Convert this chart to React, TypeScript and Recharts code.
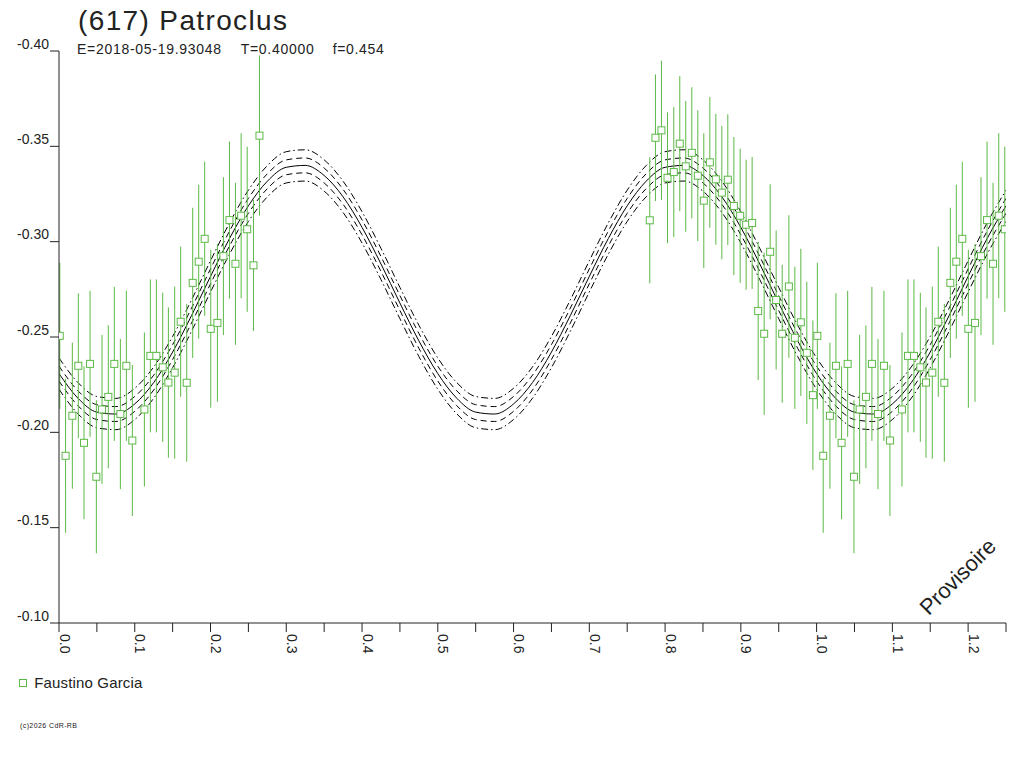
import { ComposedChart, Line, Scatter, ErrorBar, XAxis, YAxis, Customized } from "recharts";

// observations (phase, reduced magnitude, 1-sigma error)
const obsPhase = [
  0.001, 0.0087, 0.0176, 0.0255, 0.033, 0.041, 0.0493, 0.0568, 0.0651, 0.073,
  0.081, 0.0889, 0.0968, 0.1127, 0.1206, 0.1285, 0.1369, 0.1444, 0.1527, 0.1606,
  0.1686, 0.1765, 0.1844, 0.1923, 0.2003, 0.2091, 0.217, 0.225, 0.2329, 0.2404,
  0.2484, 0.2567, 0.2646,
  0.7798, 0.7873, 0.7952, 0.8032, 0.8115, 0.8194, 0.8273, 0.8353, 0.8432, 0.8511,
  0.8591, 0.867, 0.8749, 0.8828, 0.8908, 0.8991, 0.907, 0.9149, 0.9229, 0.9308,
  0.9387, 0.9466, 0.9546, 0.9634, 0.9713, 0.9792, 0.9871, 0.9951,
];
const obsMag = [
  -0.2506, -0.1877, -0.2087, -0.2349, -0.1945, -0.2359, -0.1767, -0.212, -0.2186, -0.2359,
  -0.2096, -0.2349, -0.1957, -0.212, -0.2401, -0.2401, -0.2341, -0.2261, -0.2313, -0.258,
  -0.226, -0.2784, -0.2895, -0.3015, -0.2543, -0.2574, -0.2924, -0.3113, -0.2884, -0.3136,
  -0.3065, -0.2876, -0.3556,
  -0.3112, -0.3545, -0.3584, -0.3335, -0.3365, -0.3514, -0.3395, -0.3466, -0.3346, -0.3215,
  -0.3416, -0.3327, -0.3257, -0.3325, -0.3187, -0.3136, -0.3089, -0.3098, -0.2636, -0.2517,
  -0.2947, -0.2694, -0.2517, -0.2765, -0.2496, -0.2577, -0.2417, -0.2195,
];
const obsErr = [
  0.0383, 0.0404, 0.0383, 0.038, 0.0401, 0.0383, 0.0401, 0.0391, 0.0375, 0.0404,
  0.0394, 0.0394, 0.0396, 0.0404, 0.0401, 0.0401, 0.0391, 0.0394, 0.0451, 0.0394,
  0.0414, 0.0394, 0.0404, 0.0404, 0.0414, 0.0414, 0.0414, 0.0412, 0.0425, 0.0433,
  0.0433, 0.0344, 0.042,
  0.0331, 0.0332, 0.0365, 0.0343, 0.0341, 0.0354, 0.0343, 0.0344, 0.0343, 0.0354,
  0.0343, 0.0343, 0.035, 0.0343, 0.0362, 0.0352, 0.0341, 0.0346, 0.0362, 0.0425,
  0.0354, 0.0365, 0.0362, 0.0374, 0.0373, 0.0386, 0.0373, 0.0392,
];

// fitted light curve and its envelopes, read every 0.025 in phase
const fitPhase = [
  0, 0.025, 0.05, 0.075, 0.1, 0.125, 0.15, 0.175, 0.2, 0.225,
  0.25, 0.275, 0.3, 0.325, 0.35, 0.375, 0.4, 0.425, 0.45, 0.475,
  0.5, 0.525, 0.55, 0.575, 0.6, 0.625, 0.65, 0.675, 0.7, 0.725,
  0.75, 0.775, 0.8, 0.825, 0.85, 0.875, 0.9, 0.925, 0.95, 0.975,
  1, 1.025, 1.05, 1.075, 1.1, 1.125, 1.15, 1.175, 1.2, 1.225, 1.25,
];
const fitMid = [
  -0.2308, -0.2179, -0.2106, -0.2096, -0.2149, -0.2261, -0.2421, -0.2613, -0.2818, -0.3016,
  -0.3188, -0.3317, -0.339, -0.34, -0.3347, -0.3235, -0.3075, -0.2883, -0.2678, -0.248,
  -0.2308, -0.2179, -0.2106, -0.2096, -0.2149, -0.2261, -0.2421, -0.2613, -0.2818, -0.3016,
  -0.3188, -0.3317, -0.339, -0.34, -0.3347, -0.3235, -0.3075, -0.2883, -0.2678, -0.248,
  -0.2308, -0.2179, -0.2106, -0.2096, -0.2149, -0.2261, -0.2421, -0.2613, -0.2818, -0.3016, -0.3188,
];
const fitInnerHi = [
  -0.2347, -0.2218, -0.2145, -0.2135, -0.2188, -0.23, -0.246, -0.2652, -0.2857, -0.3055,
  -0.3227, -0.3356, -0.3429, -0.3439, -0.3386, -0.3274, -0.3114, -0.2922, -0.2717, -0.2519,
  -0.2347, -0.2218, -0.2145, -0.2135, -0.2188, -0.23, -0.246, -0.2652, -0.2857, -0.3055,
  -0.3227, -0.3356, -0.3429, -0.3439, -0.3386, -0.3274, -0.3114, -0.2922, -0.2717, -0.2519,
  -0.2347, -0.2218, -0.2145, -0.2135, -0.2188, -0.23, -0.246, -0.2652, -0.2857, -0.3055, -0.3227,
];
const fitInnerLo = [
  -0.2269, -0.214, -0.2067, -0.2057, -0.211, -0.2222, -0.2382, -0.2574, -0.2779, -0.2977,
  -0.3149, -0.3278, -0.3351, -0.3361, -0.3308, -0.3196, -0.3036, -0.2844, -0.2639, -0.2441,
  -0.2269, -0.214, -0.2067, -0.2057, -0.211, -0.2222, -0.2382, -0.2574, -0.2779, -0.2977,
  -0.3149, -0.3278, -0.3351, -0.3361, -0.3308, -0.3196, -0.3036, -0.2844, -0.2639, -0.2441,
  -0.2269, -0.214, -0.2067, -0.2057, -0.211, -0.2222, -0.2382, -0.2574, -0.2779, -0.2977, -0.3149,
];
const fitOuterHi = [
  -0.239, -0.2261, -0.2188, -0.2178, -0.2231, -0.2343, -0.2503, -0.2695, -0.29, -0.3098,
  -0.327, -0.3399, -0.3472, -0.3482, -0.3429, -0.3317, -0.3157, -0.2965, -0.276, -0.2562,
  -0.239, -0.2261, -0.2188, -0.2178, -0.2231, -0.2343, -0.2503, -0.2695, -0.29, -0.3098,
  -0.327, -0.3399, -0.3472, -0.3482, -0.3429, -0.3317, -0.3157, -0.2965, -0.276, -0.2562,
  -0.239, -0.2261, -0.2188, -0.2178, -0.2231, -0.2343, -0.2503, -0.2695, -0.29, -0.3098, -0.327,
];
const fitOuterLo = [
  -0.2226, -0.2097, -0.2024, -0.2014, -0.2067, -0.2179, -0.2339, -0.2531, -0.2736, -0.2934,
  -0.3106, -0.3235, -0.3308, -0.3318, -0.3265, -0.3153, -0.2993, -0.2801, -0.2596, -0.2398,
  -0.2226, -0.2097, -0.2024, -0.2014, -0.2067, -0.2179, -0.2339, -0.2531, -0.2736, -0.2934,
  -0.3106, -0.3235, -0.3308, -0.3318, -0.3265, -0.3153, -0.2993, -0.2801, -0.2596, -0.2398,
  -0.2226, -0.2097, -0.2024, -0.2014, -0.2067, -0.2179, -0.2339, -0.2531, -0.2736, -0.2934, -0.3106,
];

const xTicks = [
  0, 0.05, 0.1, 0.15, 0.2, 0.25, 0.3, 0.35, 0.4, 0.45, 0.5, 0.55, 0.6, 0.65,
  0.7, 0.75, 0.8, 0.85, 0.9, 0.95, 1, 1.05, 1.1, 1.15, 1.2, 1.25,
];
const yTicks = [-0.4, -0.35, -0.3, -0.25, -0.2, -0.15, -0.1];

const GREEN = "#5cb946";
const INK = "#222";
const FONT = "'Liberation Sans', Arial, sans-serif";

// phases below 0.25 are shown again one cycle later
const obs = obsPhase.map((x, i) => ({ x, y: obsMag[i], err: obsErr[i] }));
const points = [
  ...obs,
  ...obs.filter((p) => p.x + 1 <= 1.25).map((p) => ({ ...p, x: p.x + 1 })),
];

const fit = fitPhase.map((x, i) => ({
  x,
  mid: fitMid[i],
  innerHi: fitInnerHi[i],
  innerLo: fitInnerLo[i],
  outerHi: fitOuterHi[i],
  outerLo: fitOuterLo[i],
}));

const YTick = ({ x, y, payload }: any) => (
  <text x={x - 1} y={y - 2.5} textAnchor="end" fontSize={14} fill={INK} fontFamily={FONT}>
    {payload.value.toFixed(2)}
  </text>
);

const XTick = ({ x, y, payload }: any) => {
  if (Math.round(payload.value * 100) % 10 !== 0) return null;
  return (
    <text
      transform={`translate(${x + 0.5},${y}) rotate(90)`}
      textAnchor="start"
      fontSize={14}
      fill={INK}
      fontFamily={FONT}
    >
      {payload.value.toFixed(1)}
    </text>
  );
};

const Square = ({ cx, cy }: any) => (
  <rect x={cx - 3.5} y={cy - 3.5} width={7} height={7} fill="#fff" stroke={GREEN} strokeWidth={1} />
);

const Overlay = () => (
  <g fontFamily={FONT} fill={INK}>
    <text x={78} y={29.5} fontSize={28} textLength={209} lengthAdjust="spacing">
      (617) Patroclus
    </text>
    <text x={77} y={54} fontSize={14} textLength={144} lengthAdjust="spacing">
      E=2018-05-19.93048
    </text>
    <text x={240.7} y={54} fontSize={14} textLength={73} lengthAdjust="spacing">
      T=0.40000
    </text>
    <text x={332.7} y={54} fontSize={14} textLength={51} lengthAdjust="spacing">
      f=0.454
    </text>
    <rect x={19.5} y={679.5} width={7} height={7} fill="#fff" stroke={GREEN} />
    <text x={34.3} y={688} fontSize={15} textLength={108} lengthAdjust="spacing">
      Faustino Garcia
    </text>
    <text x={20} y={728} fontSize={7} textLength={57} lengthAdjust="spacing">
      (c)2026 CdR-RB
    </text>
    <text
      transform="translate(963,582) rotate(-45)"
      textAnchor="middle"
      fontSize={22}
      textLength={97}
      lengthAdjust="spacing"
    >
      Provisoire
    </text>
  </g>
);

export default function App() {
  return (
    <div style={{ position: "absolute", left: 0, top: 0, width: 1024, height: 768, background: "#fff" }}>
      <ComposedChart width={1024} height={768} margin={{ top: 51, right: 18, bottom: 105, left: 9 }}>
        <XAxis
          type="number"
          dataKey="x"
          domain={[0, 1.25]}
          ticks={xTicks}
          interval={0}
          allowDataOverflow
          height={40}
          tickSize={9}
          tickMargin={2}
          stroke={INK}
          tick={<XTick />}
        />
        <YAxis
          type="number"
          domain={[-0.4, -0.1]}
          ticks={yTicks}
          interval={0}
          reversed
          allowDataOverflow
          width={50}
          tickSize={9}
          tickMargin={0}
          stroke={INK}
          tick={<YTick />}
        />
        <Line data={fit} dataKey="outerHi" type="monotone" stroke="#000" strokeWidth={1} strokeDasharray="7 3 1.5 3" dot={false} activeDot={false} isAnimationActive={false} />
        <Line data={fit} dataKey="innerHi" type="monotone" stroke="#000" strokeWidth={1} strokeDasharray="6 4" dot={false} activeDot={false} isAnimationActive={false} />
        <Line data={fit} dataKey="mid" type="monotone" stroke="#000" strokeWidth={1} dot={false} activeDot={false} isAnimationActive={false} />
        <Line data={fit} dataKey="innerLo" type="monotone" stroke="#000" strokeWidth={1} strokeDasharray="6 4" dot={false} activeDot={false} isAnimationActive={false} />
        <Line data={fit} dataKey="outerLo" type="monotone" stroke="#000" strokeWidth={1} strokeDasharray="7 3 1.5 3" dot={false} activeDot={false} isAnimationActive={false} />
        <Scatter data={points} dataKey="y" shape={<Square />} isAnimationActive={false}>
          <ErrorBar dataKey="err" direction="y" width={0} stroke={GREEN} strokeWidth={1} />
        </Scatter>
        <Customized component={<Overlay />} />
      </ComposedChart>
    </div>
  );
}
